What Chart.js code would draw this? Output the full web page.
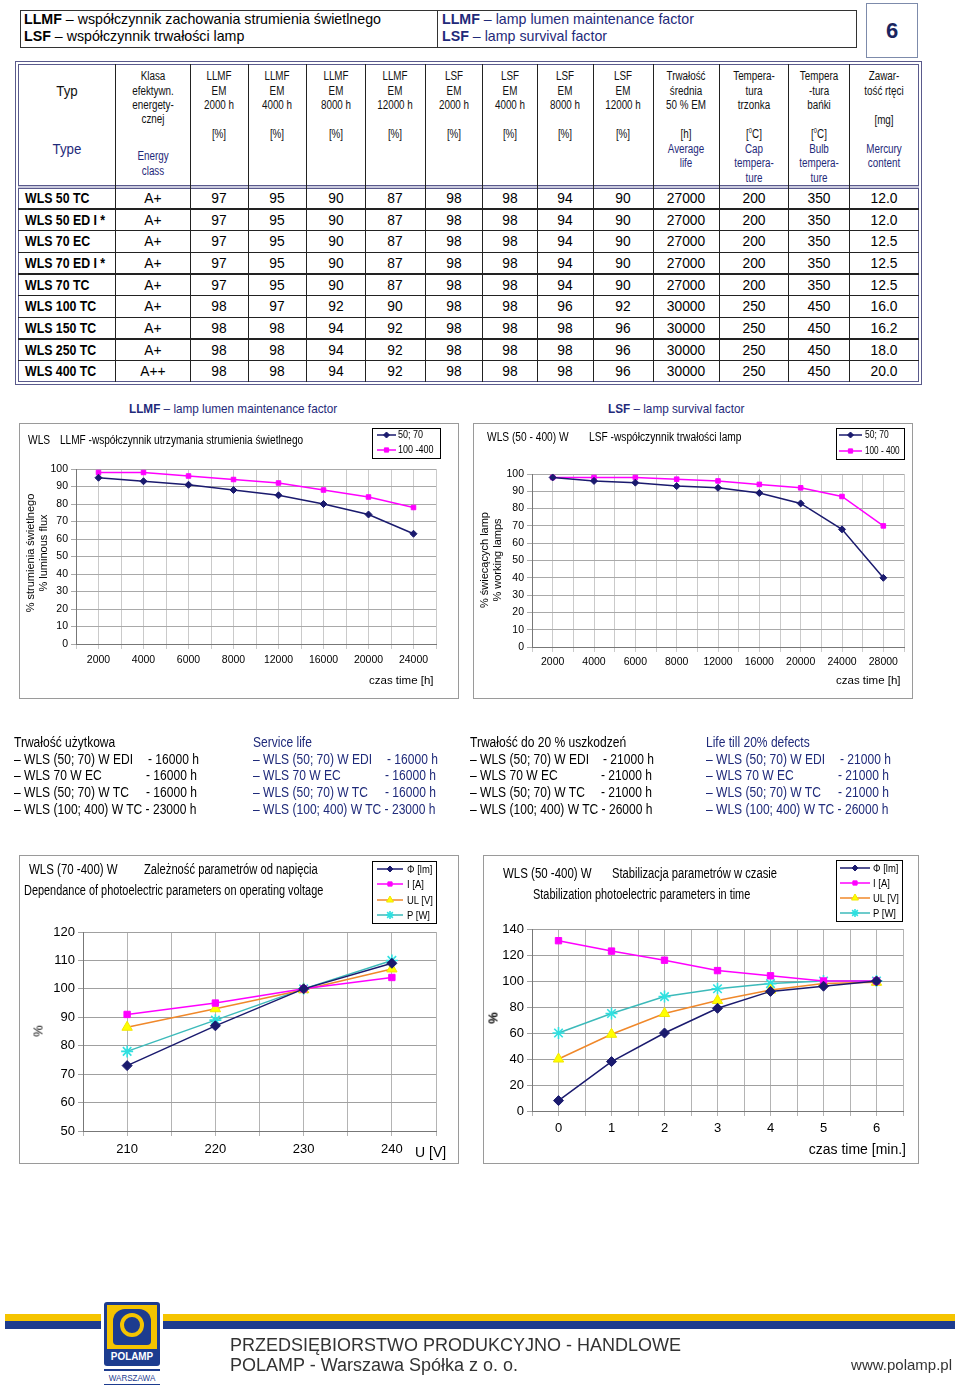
<!DOCTYPE html>
<html><head><meta charset="utf-8">
<script src="https://cdn.jsdelivr.net/npm/chart.js@4.4.1/dist/chart.umd.min.js"></script>
<style>
html,body{margin:0;padding:0;background:#fff;}
body{width:960px;height:1388px;position:relative;overflow:hidden;font-family:'Liberation Sans',Arial,sans-serif;color:#000;}
.t{position:absolute;white-space:nowrap;line-height:1;}
.r{position:absolute;box-sizing:border-box;}
canvas{position:absolute;}
</style></head><body>
<script>
// ---------------- DATA ----------------
const llmfHours = ['2000','4000','6000','8000','12000','16000','20000','24000'];
const llmf5070 = [95,93,91,88,85,80,74,63];
const llmf100400 = [98,98,96,94,92,88,84,78];

const lsfHours = ['2000','4000','6000','8000','12000','16000','20000','24000','28000'];
const lsf5070 = [98,96,95,93,92,89,83,68,40];
const lsf100400 = [98,98,98,97,96,94,92,87,70];

const voltageLabels = ['210','220','230','240'];
const voltFlux = [73,87,100,109];
const voltCurrent = [91,95,100,104];
const voltUL = [86.5,93,99.7,107];
const voltPower = [78,89,100,110];

const minuteLabels = ['0','1','2','3','4','5','6'];
const timeFlux = [8,38,60,79,92,96,100];
const timeCurrent = [131,123,116,108,104,100,100];
const timeUL = [40,59,75,85,93,98,99];
const timePower = [60,75,88,94,98,100,100];

const lampTypes = ['WLS 50 TC','WLS 50 ED I *','WLS 70 EC','WLS 70 ED I *','WLS 70 TC','WLS 100 TC','WLS 150 TC','WLS 250 TC','WLS 400 TC'];
const energyClass = ['A+','A+','A+','A+','A+','A+','A+','A+','A++'];
const llmf2000 = [97,97,97,97,97,98,98,98,98];
const llmf4000 = [95,95,95,95,95,97,98,98,98];
const llmf8000 = [90,90,90,90,90,92,94,94,94];
const llmf12000 = [87,87,87,87,87,90,92,92,92];
const lsf2000 = [98,98,98,98,98,98,98,98,98];
const lsf4000 = [98,98,98,98,98,98,98,98,98];
const lsf8000 = [94,94,94,94,94,96,98,98,98];
const lsf12000 = [90,90,90,90,90,92,96,96,96];
const averageLife = [27000,27000,27000,27000,27000,30000,30000,30000,30000];
const capTemp = [200,200,200,200,200,250,250,250,250];
const bulbTemp = [350,350,350,350,350,450,450,450,450];
const mercury = ['12.0','12.0','12.5','12.5','12.5','16.0','16.2','18.0','20.0'];

const lifeGroups = ['WLS (50; 70) W EDI','WLS 70 W EC','WLS (50; 70) W TC','WLS (100; 400) W TC'];
const serviceLife = ['16000','16000','16000','23000'];
const life20 = ['21000','21000','21000','26000'];

// ---------------- HELPERS ----------------
const EN='#1f2a7a';
const FONT="'Liberation Sans', Arial, sans-serif";
function T(html,x,cy,fs,o={}){
  const d=document.createElement('div');
  d.className='t'; d.innerHTML=html; d.style.fontSize=fs+'px';
  if(o.color) d.style.color=o.color;
  if(o.bold) d.style.fontWeight='bold';
  if(o.ls) d.style.letterSpacing=o.ls+'px';
  const sx=o.sx||1, a=o.anchor||'l';
  d.style.left=x+'px'; d.style.top=cy+'px';
  let tr;
  if(o.rot){ tr=`translate(-50%,-50%) rotate(${o.rot}deg)`; d.style.transformOrigin='50% 50%'; if(sx!==1) tr+=` scaleX(${sx})`; }
  else {
    const tx=a==='l'?'0':a==='c'?'-50%':'-100%';
    tr=`translate(${tx},-52%)`; if(sx!==1) tr+=` scaleX(${sx})`;
    d.style.transformOrigin=a==='l'?'0 50%':a==='c'?'50% 50%':'100% 50%';
  }
  d.style.transform=tr;
  document.body.appendChild(d); return d;
}
function R(x,y,w,h,css){
  const d=document.createElement('div'); d.className='r';
  d.style.left=x+'px'; d.style.top=y+'px'; d.style.width=w+'px'; d.style.height=h+'px';
  d.style.cssText+=css; document.body.appendChild(d); return d;
}

// ---------------- PAGE HEADER ----------------
R(20,10,837,38,'border:1px solid #333;');
R(437,10,1,38,'background:#333;');
R(866,3,52,55,'border:1px solid #7d8bab;');
T('<b>LLMF</b> – współczynnik zachowania strumienia świetlnego',24,19.5,14.5,{sx:0.98});
T('<b>LSF</b> – współczynnik trwałości lamp',24,36.5,14.5,{sx:0.98});
T('<b>LLMF</b> – lamp lumen maintenance factor',442,19.5,14.5,{sx:0.98,color:EN});
T('<b>LSF</b> – lamp survival factor',442,36.5,14.5,{sx:0.98,color:EN});
T('6',892,31,22,{bold:true,anchor:'c',color:'#1a2560'});

// ---------------- TABLE ----------------
const colW=[97,75,58,58,59,60,57,55,56,60,66,69,61,70];
const colX=[18]; colW.forEach(w=>colX.push(colX[colX.length-1]+w));
R(15,61,907,324,'border:4px double #5a5a8c;');
R(18,184.5,901,4,'border-top:1px solid #5a5a8c;border-bottom:1px solid #5a5a8c;background:#c9c9dd;');
for(let i=1;i<colW.length;i++) R(colX[i]-0.5,64,1.3,318,'background:#222;');
const rowTop=186.7, rowH=21.67;
for(let k=1;k<9;k++) R(18,rowTop+k*rowH,901,1.2,'background:#222;');
const hdr=[
 [['Typ',91],['Type',149,1]],
 [['Klasa',76],['efektywn.',91],['energety-',105],['cznej',119],['Energy',156,1],['class',171,1]],
 [['LLMF',76],['EM',91],['2000 h',105],['[%]',134]],
 [['LLMF',76],['EM',91],['4000 h',105],['[%]',134]],
 [['LLMF',76],['EM',91],['8000 h',105],['[%]',134]],
 [['LLMF',76],['EM',91],['12000 h',105],['[%]',134]],
 [['LSF',76],['EM',91],['2000 h',105],['[%]',134]],
 [['LSF',76],['EM',91],['4000 h',105],['[%]',134]],
 [['LSF',76],['EM',91],['8000 h',105],['[%]',134]],
 [['LSF',76],['EM',91],['12000 h',105],['[%]',134]],
 [['Trwałość',76],['średnia',91],['50 % EM',105],['[h]',134],['Average',149,1],['life',163,1]],
 [['Tempera-',76],['tura',91],['trzonka',105],['[<sup style="font-size:7px">0</sup>C]',134],['Cap',149,1],['tempera-',163,1],['ture',178,1]],
 [['Tempera',76],['-tura',91],['bańki',105],['[<sup style="font-size:7px">0</sup>C]',134],['Bulb',149,1],['tempera-',163,1],['ture',178,1]],
 [['Zawar-',76],['tość rtęci',91],['[mg]',120],['Mercury',149,1],['content',163,1]]
];
hdr.forEach((lines,ci)=>{
  const cx=(colX[ci]+colX[ci+1])/2;
  lines.forEach(([s,y,en])=>{
    const big = ci===0;
    T(s,cx,y,big?14:12,{anchor:'c',sx:big?0.95:0.82,color:en?EN:'#111'});
  });
});
const cols=[lampTypes,energyClass,llmf2000,llmf4000,llmf8000,llmf12000,lsf2000,lsf4000,lsf8000,lsf12000,averageLife,capTemp,bulbTemp,mercury];
for(let r=0;r<9;r++){
  const cy=rowTop+rowH*(r+0.5)+0.5;
  cols.forEach((arr,ci)=>{
    if(ci===0) T(String(arr[r]),25,cy,14,{bold:true,sx:0.88});
    else T(String(arr[r]),(colX[ci]+colX[ci+1])/2,cy,15,{anchor:'c',sx:0.92});
  });
}

// ---------------- SECTION TITLES ----------------
T('<b>LLMF</b> – lamp lumen maintenance factor',129,409,13.5,{sx:0.87,color:EN});
T('<b>LSF</b> –  lamp survival  factor',608,409,13.5,{sx:0.87,color:EN});

// ---------------- CHART BOXES ----------------
R(19,423,440,276,'border:1px solid #9a9a9a;');
R(473,423,440,276,'border:1px solid #9a9a9a;');
R(19,855,440,309,'border:1px solid #9a9a9a;');
R(483,855,436,309,'border:1px solid #9a9a9a;');

Chart.defaults.font.family=FONT;
Chart.defaults.color='#000';

function makeLine(box,area,cats,series,yc,fsTick,xpad,gridH,gridV){
  const cv=document.createElement('canvas');
  cv.width=box.w; cv.height=box.h; cv.style.left=box.x+'px'; cv.style.top=box.y+'px';
  document.body.appendChild(cv);
  const pl=area.l-area.yw, pr=box.w-area.r, pt=area.t, pb=box.h-area.b-area.xh;
  return new Chart(cv,{type:'line',
    data:{datasets:series.map(s=>({label:s.label,data:s.values.map((v,i)=>({x:i,y:v})),
      borderColor:s.line,backgroundColor:s.fill,pointBackgroundColor:s.fill,pointBorderColor:s.pb||s.fill,
      pointStyle:s.style,pointRadius:s.r,pointBorderWidth:s.pbw||1,borderWidth:s.bw||1.5,tension:0,fill:false,clip:false}))},
    options:{responsive:false,animation:false,events:[],
      layout:{padding:{left:pl,right:pr,top:pt,bottom:pb}},
      plugins:{legend:{display:false},tooltip:{enabled:false}},
      scales:{
        x:{type:'linear',min:-0.5,max:cats.length-0.5,afterFit:s=>{s.height=area.xh;},
           grid:{color:gridV,tickLength:5},border:{color:'#777'},
           ticks:{stepSize:0.5,autoSkip:false,maxRotation:0,minRotation:0,padding:xpad,color:'#000',font:{size:fsTick},
             callback:v=>{const k=Math.round(v);return (Math.abs(v-k)<1e-6&&k>=0&&k<cats.length)?cats[k]:'';}}},
        y:{min:yc.min,max:yc.max,afterFit:s=>{s.width=area.yw;},
           grid:{color:gridH,tickLength:5},border:{color:'#777'},
           ticks:{stepSize:yc.step,padding:3,color:'#000',font:{size:fsTick}}}
      }}});
}
const NAVY='#1a1a6e', MAG='#ff00ff', ORL='#f0882a', YEL='#ffff00', CYL='#3cbaba', CYP='#2fe0e0';
const sNavy=(v,r)=>({label:'',values:v,line:NAVY,fill:NAVY,style:'rectRot',r});
const sMag=(v,r)=>({label:'',values:v,line:MAG,fill:MAG,style:'rect',r});
const sUL=(v,r)=>({label:'',values:v,line:ORL,fill:YEL,pb:'#f2e600',style:'triangle',r});
const sP=(v,r)=>({label:'',values:v,line:CYL,fill:CYP,pb:CYP,style:'star',r,pbw:1.6});

// Chart 1 LLMF
makeLine({x:19,y:423,w:440,h:276},{l:57,r:417,t:46,b:221,yw:30,xh:26},llmfHours,
  [sNavy(llmf5070,3.5),sMag(llmf100400,3.2)],{min:0,max:100,step:10},10.5,5,'#a9a9a9','#cacaca');
// Chart 2 LSF
makeLine({x:473,y:423,w:440,h:276},{l:59,r:431,t:51,b:224,yw:30,xh:26},lsfHours,
  [sNavy(lsf5070,3.5),sMag(lsf100400,3.2)],{min:0,max:100,step:10},10.5,4,'#a9a9a9','#cacaca');
// Chart 3 voltage
makeLine({x:19,y:855,w:440,h:309},{l:64,r:417,t:77,b:276,yw:36,xh:28},voltageLabels,
  [sNavy(voltFlux,5),sMag(voltCurrent,4.5),sUL(voltUL,6),sP(voltPower,6)],{min:50,max:120,step:10},13,6,'#a0a0a0','#b4b4b4');
// Chart 4 time
makeLine({x:483,y:855,w:436,h:309},{l:49,r:420,t:74,b:256,yw:36,xh:28},minuteLabels,
  [sNavy(timeFlux,5),sMag(timeCurrent,4.5),sUL(timeUL,6),sP(timePower,6)],{min:0,max:140,step:20},13,5,'#a0a0a0','#b4b4b4');

// ---------------- CHART TEXTS ----------------
T('WLS',28,440,12,{sx:0.85});
T('LLMF -współczynnik utrzymania strumienia świetlnego',60,440,12,{sx:0.84});
T('% strumienia świetlnego',30,553,11,{rot:-90});
T('% luminous flux',43,553,11,{rot:-90});
T('czas time [h]',369,681,11.5);

T('WLS (50 - 400) W',487,437,12,{sx:0.85});
T('LSF -współczynnik trwałości lamp',589,437,12,{sx:0.85});
T('% świecących lamp',484,560,11,{rot:-90});
T('% working lamps',497,560,11,{rot:-90});
T('czas time [h]',836,681,11.5);

T('WLS (70 -400) W',29,869,14,{sx:0.82});
T('Zależność parametrów od napięcia',144,869,14,{sx:0.8});
T('Dependance of photoelectric parameters on operating voltage',24,890,14,{sx:0.78});
T('%',38,1031,13,{rot:-90});
T('U [V]',415,1152,14);

T('WLS (50 -400) W',503,873,14,{sx:0.82});
T('Stabilizacja parametrów  w  czasie',612,873,14,{sx:0.8});
T('Stabilization photoelectric parameters in time',533,894,14,{sx:0.78});
T('%',493,1018,13,{rot:-90,bold:true});
T('czas time [min.]',906,1149,14,{anchor:'r'});

// ---------------- LEGENDS ----------------
R(372,428,69,31,'border:1px solid #000;background:#fff;');
R(836,428,69,32,'border:1px solid #000;background:#fff;');
R(372,861,65,63,'border:1px solid #000;background:#fff;');
R(836,860,67,62,'border:1px solid #000;background:#fff;');
const deco=document.createElement('canvas'); deco.width=960; deco.height=1388; deco.style.left='0px'; deco.style.top='0px';
document.body.appendChild(deco);
const dc=deco.getContext('2d');
function sample(x1,x2,y,s,r){
  dc.save(); dc.strokeStyle=s.line; dc.lineWidth=1.5; dc.beginPath(); dc.moveTo(x1,y); dc.lineTo(x2,y); dc.stroke(); dc.restore();
  dc.save(); dc.fillStyle=s.fill; dc.strokeStyle=s.pb||s.fill; dc.lineWidth=s.pbw||1;
  try{ Chart.helpers.drawPoint(dc,{pointStyle:s.style,radius:r,borderWidth:s.pbw||1,rotation:0},(x1+x2)/2,y);}catch(e){}
  dc.restore();
}
sample(377,396,435,sNavy([],3),3); T('50; 70',398,435,10,{sx:0.9});
sample(377,396,450,sMag([],3),3); T('100 -400',398,450,10,{sx:0.9});
sample(839,862,435,sNavy([],3),3); T('50; 70',865,435,10,{sx:0.85});
sample(839,862,451,sMag([],3),3); T('100 - 400',865,451,10,{sx:0.82});
const leg4=['Φ [lm]','I [A]','UL [V]','P [W]'];
const mk=[sNavy([],3),sMag([],3),sUL([],4),sP([],4)];
[869,884,900,915].forEach((y,i)=>{sample(377,403,y,mk[i],i<2?3:4); T(leg4[i],407,y,10.5,{sx:0.9});});
[868,883,898,913].forEach((y,i)=>{sample(840,870,y,mk[i],i<2?3:4); T(leg4[i],873,y,10.5,{sx:0.9});});

// ---------------- LIFE TEXT BLOCKS ----------------
function lifeBlock(x,title,vals,valX,color){
  T(title,x,742,14,{sx:0.86,color});
  [759,775,792].forEach((y,i)=>{T('– '+lifeGroups[i],x,y,14,{sx:0.86,color}); T('- '+vals[i]+' h',valX[i],y,14,{sx:0.86,color});});
  T('– '+lifeGroups[3]+' - '+vals[3]+' h',x,809,14,{sx:0.86,color});
}
lifeBlock(14,'Trwałość użytkowa',serviceLife,[148,146,146],'#000');
lifeBlock(253,'Service life',serviceLife,[387,385,385],EN);
lifeBlock(470,'Trwałość do 20 % uszkodzeń',life20,[603,601,601],'#000');
lifeBlock(706,'Life till 20% defects',life20,[840,838,838],EN);

// ---------------- FOOTER ----------------
R(5,1314,950,7,'background:#f5c400;');
R(5,1321,950,8,'background:#1d3c8f;');
R(101,1300,62,88,'background:#fff;');
R(104,1302,56,64,'background:#1d3c8f;border-radius:3px;');
R(107,1305,50,44,'background:#f5c400;');
R(113,1309,38,36,'background:#1d3c8f;border-radius:12px 12px 4px 4px;');
R(120,1313,24,24,'border:4px solid #f5c400;border-radius:50%;background:#1d3c8f;');
R(127,1337,10,8,'background:#1d3c8f;');
T('POLAMP',132,1357,11,{anchor:'c',bold:true,color:'#fff',sx:0.9});
R(104,1369,56,2,'background:#1d3c8f;');
T('WARSZAWA',132,1378,9.5,{anchor:'c',color:'#1d3c8f',sx:0.85});
R(104,1384,56,1,'background:#1d3c8f;');
T('PRZEDSIĘBIORSTWO PRODUKCYJNO - HANDLOWE',230,1345,18,{color:'#333'});
T('POLAMP - Warszawa Spółka z o. o.',230,1365,18,{color:'#333'});
T('www.polamp.pl',952,1365,15,{color:'#333',anchor:'r'});
</script>
</body></html>
